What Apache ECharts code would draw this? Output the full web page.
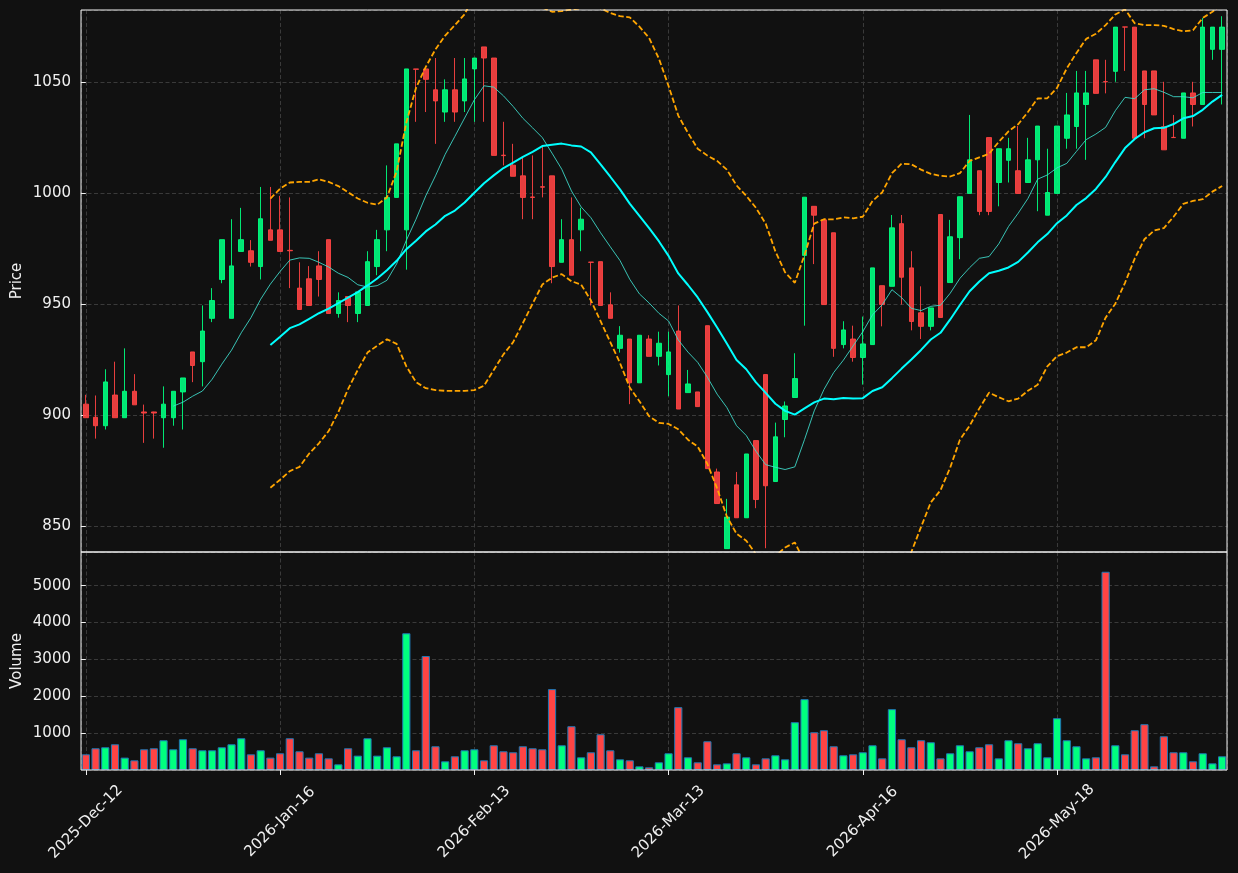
<!DOCTYPE html>
<html>
<head>
<meta charset="utf-8">
<title>Price / Volume</title>
<script src="https://cdn.jsdelivr.net/npm/echarts@6/dist/echarts.min.js"></script>
<style>
  html, body { margin: 0; padding: 0; background: #111111; }
  #chart { width: 1238px; height: 873px; }
</style>
</head>
<body>
<div id="chart"></div>
<script>
// trading days: anchors are the dates shown on the x axis, one every 20 bars
var anchorDates = ['2025-12-12', '2026-01-16', '2026-02-13', '2026-03-13', '2026-04-16', '2026-05-18'];
var barsPerAnchor = [20, 20, 20, 20, 20, 18];

var opens = [
  905.0, 899.1, 895.3, 909.1, 898.9, 910.8, 901.5, 901.5, 898.9, 898.9,
  910.5, 928.5, 924.1, 943.6, 961.1, 943.6, 973.7, 974.0, 966.9, 983.4,
  983.4, 974.2, 957.2, 961.4, 967.2, 979.0, 945.8, 953.4, 945.8, 949.4,
  966.9, 983.4, 998.0, 983.4, 1055.8, 1055.8, 1046.4, 1036.4, 1046.4, 1041.4,
  1055.8, 1065.7, 1060.7, 1017.0, 1012.5, 1007.7, 998.2, 1002.8, 1007.7, 968.8,
  979.0, 983.4, 968.9, 969.1, 949.7, 930.1, 934.3, 914.6, 934.3, 926.5,
  918.3, 937.9, 910.2, 910.5, 940.3, 874.5, 840.0, 868.7, 853.9, 888.6,
  918.3, 870.2, 898.1, 908.0, 971.9, 994.0, 987.9, 982.1, 931.8, 934.3,
  926.0, 931.8, 958.3, 958.0, 986.2, 966.3, 946.1, 940.0, 990.3, 959.7,
  979.9, 999.8, 1010.0, 1024.9, 1004.7, 1014.7, 1010.0, 1004.7, 1014.9, 990.0,
  999.8, 1024.6, 1029.9, 1039.8, 1059.9, 1050.1, 1054.7, 1074.7, 1074.6, 1054.9,
  1054.9, 1029.8, 1025.0, 1024.6, 1045.0, 1039.8, 1064.6, 1064.6
];
var highs = [
  909.2, 908.9, 920.7, 924.1, 930.1, 918.5, 904.8, 901.6, 913.0, 910.8,
  916.8, 928.5, 949.4, 957.2, 979.0, 988.2, 993.3, 978.8, 1002.7, 1002.7,
  998.7, 998.0, 968.8, 967.1, 973.8, 979.0, 955.3, 953.4, 955.5, 973.8,
  983.4, 1012.4, 1022.1, 1055.8, 1055.8, 1055.8, 1060.7, 1051.1, 1060.7, 1060.7,
  1060.7, 1065.7, 1060.7, 1032.0, 1022.1, 1016.0, 1016.9, 1021.0, 1007.7, 988.2,
  998.0, 993.3, 968.9, 969.1, 955.3, 940.1, 934.3, 936.0, 936.0, 937.6,
  937.6, 949.4, 920.4, 910.5, 940.3, 876.0, 862.4, 874.5, 882.6, 888.6,
  918.3, 896.7, 906.2, 927.9, 998.1, 994.0, 987.9, 982.1, 942.3, 940.3,
  944.4, 966.3, 958.3, 990.1, 990.1, 973.8, 958.0, 948.3, 990.3, 987.9,
  998.3, 1035.1, 1010.0, 1024.9, 1019.9, 1024.8, 1030.1, 1024.8, 1030.1, 1019.9,
  1030.1, 1045.0, 1054.9, 1054.9, 1059.9, 1059.9, 1074.6, 1074.7, 1074.6, 1054.9,
  1054.9, 1050.0, 1035.1, 1045.0, 1050.0, 1078.7, 1074.6, 1079.5
];
var lows = [
  898.9, 889.5, 893.6, 898.9, 898.9, 904.7, 887.6, 889.5, 885.4, 895.3,
  893.6, 914.9, 913.0, 941.9, 959.4, 943.6, 973.7, 966.9, 961.1, 978.7,
  973.7, 957.2, 947.6, 949.4, 953.4, 945.8, 943.9, 941.9, 941.9, 949.4,
  963.0, 973.8, 998.0, 965.5, 1032.0, 1036.4, 1022.1, 1032.0, 1032.0, 1036.4,
  1032.0, 1032.0, 1016.9, 1012.4, 1007.5, 988.2, 988.2, 998.0, 959.4, 968.8,
  963.0, 973.8, 949.4, 949.4, 943.6, 928.2, 905.0, 914.6, 926.5, 922.4,
  908.6, 902.8, 910.2, 903.9, 876.0, 860.3, 840.0, 853.9, 853.9, 858.2,
  840.2, 870.2, 890.1, 908.0, 940.3, 968.0, 949.8, 926.3, 930.1, 924.1,
  913.8, 931.8, 940.0, 958.0, 949.8, 938.2, 934.3, 938.2, 944.0, 959.7,
  970.2, 999.8, 990.0, 990.0, 994.0, 1004.7, 999.8, 1004.7, 991.8, 990.0,
  999.8, 1019.9, 1019.9, 1014.9, 1044.8, 1044.8, 1050.0, 1054.9, 1024.6, 1024.6,
  1035.1, 1019.4, 1024.9, 1024.6, 1029.9, 1039.8, 1059.9, 1039.8
];
var closes = [
  898.9, 895.3, 915.0, 898.9, 910.8, 904.7, 901.0, 901.0, 905.0, 910.8,
  916.8, 922.4, 937.9, 951.6, 979.0, 967.2, 979.0, 968.8, 988.4, 978.7,
  973.7, 974.0, 947.6, 949.4, 961.1, 945.8, 951.6, 949.4, 955.5, 969.1,
  979.0, 998.0, 1022.1, 1055.8, 1055.6, 1051.1, 1041.4, 1046.4, 1036.4, 1051.3,
  1060.7, 1060.7, 1016.9, 1016.8, 1007.5, 998.0, 998.0, 1002.6, 966.9, 979.0,
  963.0, 988.2, 968.8, 949.4, 943.6, 936.0, 914.6, 936.0, 926.5, 932.4,
  928.5, 902.8, 914.1, 903.9, 876.0, 860.3, 854.2, 853.9, 882.6, 862.1,
  868.3, 890.3, 904.2, 916.5, 998.1, 990.0, 949.8, 930.1, 938.4, 926.0,
  932.1, 966.3, 949.8, 984.3, 962.1, 942.2, 940.0, 948.3, 944.0, 980.3,
  998.3, 1014.9, 991.7, 991.7, 1019.9, 1019.9, 999.8, 1014.9, 1030.1, 1000.2,
  1030.1, 1035.1, 1045.0, 1045.0, 1044.8, 1050.0, 1074.6, 1074.6, 1024.6, 1039.8,
  1035.1, 1019.4, 1024.9, 1045.0, 1039.8, 1074.6, 1074.6, 1074.6
];
var volumes = [
  426, 590, 617, 698, 336, 263, 562, 590, 807, 562,
  834, 590, 535, 535, 617, 698, 862, 426, 535, 336,
  454, 862, 508, 336, 454, 317, 154, 590, 390, 862,
  390, 617, 372, 3710, 535, 3093, 644, 236, 372, 535,
  562, 263, 671, 508, 481, 644, 590, 562, 2195, 671,
  1188, 345, 481, 970, 535, 290, 263, 100, 73, 209,
  454, 1705, 345, 209, 780, 154, 181, 454, 345, 154,
  317, 399, 290, 1297, 1923, 1025, 1079, 644, 399, 426,
  481, 671, 317, 1651, 834, 617, 807, 753, 317, 454,
  671, 508, 617, 698, 317, 807, 726, 590, 726, 345,
  1406, 807, 644, 317, 345, 5379, 671, 426, 1079, 1243,
  100, 916, 481, 481, 236, 454, 181, 372
];

// moving averages, first value sits on bar 9 (ma10) / bar 19 (ma20 and bands)
var ma10 = [
  904.1, 905.9, 908.6, 910.9, 916.2, 923.0, 929.3, 937.1, 943.9, 952.2,
  959.0, 964.7, 969.8, 970.8, 970.6, 968.8, 966.7, 963.9, 962.0, 958.7,
  957.7, 958.3, 960.7, 968.1, 978.7, 988.2, 998.7, 1007.7, 1017.4, 1025.5,
  1033.7, 1041.9, 1048.2, 1047.6, 1043.7, 1038.9, 1033.6, 1029.3, 1024.9, 1017.9,
  1010.7, 1000.9, 993.7, 988.9, 982.1, 975.8, 969.6, 961.2, 954.6, 950.5,
  945.9, 942.4, 933.9, 928.4, 923.8, 917.1, 909.5, 903.5, 895.3, 890.9,
  883.8, 877.8, 876.6, 875.6, 876.8, 889.1, 902.0, 911.6, 919.2, 924.8,
  931.2, 937.6, 945.2, 949.7, 956.5, 952.9, 948.1, 947.1, 949.0, 949.5,
  954.9, 961.6, 966.4, 970.6, 971.4, 977.1, 984.9, 990.9, 997.5, 1006.2,
  1008.1, 1011.3, 1013.3, 1018.7, 1024.0, 1026.5, 1029.5, 1037.0, 1043.0, 1042.4,
  1046.4, 1046.9, 1045.3, 1043.3, 1043.3, 1042.8, 1045.2, 1045.2, 1045.2
];
var ma20 = [
  931.6, 935.3, 939.2, 940.9, 943.4, 945.9, 948.0, 950.5, 952.9, 955.4,
  958.4, 961.5, 965.2, 969.5, 974.7, 978.5, 982.7, 985.8, 989.7, 992.1,
  995.7, 1000.1, 1004.4, 1007.9, 1011.2, 1013.6, 1016.2, 1018.5, 1021.1, 1021.7,
  1022.2, 1021.4, 1020.9, 1018.3, 1012.9, 1007.3, 1001.6, 995.2, 989.7, 984.2,
  978.3, 971.7, 963.8, 958.6, 953.0, 946.4, 939.5, 932.3, 924.9, 920.7,
  914.8, 910.1, 905.2, 902.0, 900.3, 903.1, 905.8, 907.5, 907.2, 907.8,
  907.5, 907.7, 910.9, 912.6, 916.7, 921.0, 925.1, 929.4, 934.1, 937.1,
  943.1, 949.6, 955.8, 960.2, 963.9, 965.0, 966.5, 969.0, 973.2, 977.8,
  981.5, 986.4, 989.9, 994.6, 997.7, 1001.8, 1007.2, 1013.9, 1020.2, 1024.3,
  1027.3, 1029.1, 1029.3, 1031.0, 1033.6, 1034.6, 1037.4, 1041.1, 1044.1
];
var bbUpper = [
  997.5, 1001.9, 1004.7, 1005.0, 1005.0, 1006.1, 1005.0, 1003.1, 1000.3, 997.5,
  995.6, 994.7, 998.0, 1009.7, 1031.7, 1047.3, 1056.7, 1064.6, 1070.8, 1075.5,
  1080.4, 1088.9, 1095.5, 1095.4, 1095.0, 1094.3, 1090.9, 1086.8, 1083.4, 1081.5,
  1081.8, 1082.5, 1083.0, 1084.9, 1083.0, 1081.0, 1079.5, 1079.0, 1074.8, 1069.7,
  1060.5, 1048.1, 1034.8, 1027.0, 1019.9, 1016.8, 1014.4, 1010.5, 1003.4, 998.7,
  993.3, 986.2, 973.7, 964.3, 959.6, 972.1, 986.2, 988.2, 988.1, 989.0,
  988.6, 989.3, 996.4, 1000.3, 1008.9, 1013.2, 1012.9, 1010.5, 1008.6, 1007.7,
  1007.4, 1008.9, 1014.4, 1016.0, 1017.6, 1023.0, 1027.7, 1030.9, 1036.4, 1042.5,
  1042.6, 1047.3, 1056.0, 1063.0, 1069.3, 1071.6, 1075.5, 1080.3, 1082.6, 1076.3,
  1075.5, 1075.5, 1075.2, 1073.7, 1072.7, 1073.2, 1078.7, 1081.5, 1085.1
];
var bbLower = [
  867.4, 871.0, 874.9, 876.8, 882.8, 887.4, 892.9, 901.5, 911.8, 920.4,
  928.2, 931.3, 934.2, 932.1, 922.0, 914.9, 912.2, 911.3, 911.0, 911.0,
  911.0, 911.3, 913.3, 920.4, 927.4, 932.9, 941.5, 950.2, 958.8, 961.9,
  963.5, 960.3, 958.8, 951.7, 942.3, 932.9, 923.5, 912.5, 906.3, 899.6,
  896.6, 896.1, 893.7, 889.0, 885.9, 878.1, 867.1, 854.5, 846.7, 843.6,
  837.5, 834.0, 836.7, 840.5, 842.8, 834.1, 825.4, 826.8, 826.3, 826.6,
  826.4, 826.1, 825.4, 824.9, 824.5, 828.8, 838.5, 849.8, 860.8, 866.3,
  876.5, 889.0, 895.3, 903.1, 910.2, 908.1, 906.3, 907.5, 911.0, 913.7,
  922.0, 926.6, 928.2, 930.6, 930.6, 933.7, 943.9, 950.2, 959.6, 970.5,
  979.2, 983.1, 984.2, 989.3, 995.1, 996.4, 997.2, 1000.6, 1003.1
];

var priceTicks = [850, 900, 950, 1000, 1050];
var volumeTicks = [1000, 2000, 3000, 4000, 5000];

var UP = '#00FF7F';
var DOWN = '#FF4444';
var TXT = '#f0f0f0';
var FONT = 'DejaVu Sans';
var FS = 15;
var GRIDLINE = { color: '#3a3a3a', width: 1, type: [4, 2.5] };

var MONTHS = ['Jan', 'Feb', 'Mar', 'Apr', 'May', 'Jun', 'Jul', 'Aug', 'Sep', 'Oct', 'Nov', 'Dec'];
function fmtDate(d) {
  var dd = d.getUTCDate();
  return d.getUTCFullYear() + '-' + MONTHS[d.getUTCMonth()] + '-' + (dd < 10 ? '0' + dd : dd);
}
var dates = [];
anchorDates.forEach(function (a, k) {
  var d = new Date(a + 'T00:00:00Z');
  var n = 0;
  while (n < barsPerAnchor[k]) {
    var wd = d.getUTCDay();
    if (wd !== 0 && wd !== 6) { dates.push(fmtDate(d)); n++; }
    d.setUTCDate(d.getUTCDate() + 1);
  }
});
var N = dates.length;

function pad(arr) {
  var out = [];
  for (var i = 0; i < N - arr.length; i++) out.push('-');
  return out.concat(arr);
}

var candles = opens.map(function (o, i) { return [o, closes[i], lows[i], highs[i]]; });
var volBars = volumes.map(function (v, i) {
  return { value: v, itemStyle: { color: closes[i] > opens[i] ? UP : DOWN } };
});

var chart = echarts.init(document.getElementById('chart'));
var option = {
  backgroundColor: '#111111',
  animation: false,
  textStyle: { fontFamily: FONT },
  grid: [
    { left: 81, right: 11, top: 10, height: 542, show: true, z: 10, outerBoundsMode: 'none', containLabel: false, borderColor: '#f2f2f2', borderWidth: 1, backgroundColor: 'transparent' },
    { left: 81, right: 11, top: 552, height: 218, show: true, z: 10, outerBoundsMode: 'none', containLabel: false, borderColor: '#f2f2f2', borderWidth: 1, backgroundColor: 'transparent' }
  ],
  xAxis: [
    {
      type: 'category', gridIndex: 0, data: dates, boundaryGap: true,
      axisLine: { show: false }, axisTick: { show: false }, axisLabel: { show: false },
      splitLine: { show: false }
    },
    {
      type: 'category', gridIndex: 1, data: dates, boundaryGap: true,
      axisLine: { show: false },
      axisTick: { show: true, interval: 19, alignWithLabel: true, length: 5, lineStyle: { color: TXT } },
      axisLabel: {
        interval: 19, rotate: 45, align: 'center', verticalAlign: 'middle', margin: 52,
        color: TXT, fontSize: FS, fontFamily: FONT
      },
      splitLine: { show: false }
    },
    // value axes only used to draw the vertical dashed grid lines at bar centres
    {
      type: 'value', gridIndex: 0, min: -0.5, max: 117.5, splitNumber: 6,
      axisLine: { show: false }, axisTick: { show: false }, axisLabel: { show: false },
      splitLine: { show: true, lineStyle: GRIDLINE }
    },
    {
      type: 'value', gridIndex: 1, min: -0.5, max: 117.5, splitNumber: 6,
      axisLine: { show: false }, axisTick: { show: false }, axisLabel: { show: false },
      splitLine: { show: true, lineStyle: GRIDLINE }
    }
  ],
  yAxis: [
    {
      type: 'value', gridIndex: 0, min: 838.5, max: 1082.3, splitNumber: 5,
      name: 'Price', nameLocation: 'middle', nameGap: 56, nameMoveOverlap: false,
      nameTextStyle: { color: TXT, fontSize: 15, fontFamily: FONT },
      axisLine: { show: false },
      axisTick: { show: true, length: 5, lineStyle: { color: TXT } },
      axisLabel: {
        color: TXT, fontSize: FS, fontFamily: FONT, margin: 10, showMinLabel: false, showMaxLabel: false,
        formatter: function (v) { return priceTicks.indexOf(v) >= 0 ? String(v) : ''; }
      },
      splitLine: { show: true, lineStyle: GRIDLINE }
    },
    {
      type: 'value', gridIndex: 1, min: 0, max: 5915, splitNumber: 5,
      name: 'Volume', nameLocation: 'middle', nameGap: 56, nameMoveOverlap: false,
      nameTextStyle: { color: TXT, fontSize: 15, fontFamily: FONT },
      axisLine: { show: false },
      axisTick: { show: true, length: 5, lineStyle: { color: TXT } },
      axisLabel: {
        color: TXT, fontSize: FS, fontFamily: FONT, margin: 10, showMinLabel: false, showMaxLabel: false,
        formatter: function (v) { return volumeTicks.indexOf(v) >= 0 ? String(v) : ''; }
      },
      splitLine: { show: true, lineStyle: GRIDLINE }
    }
  ],
  series: [
    {
      name: 'OHLC', type: 'candlestick', xAxisIndex: 0, yAxisIndex: 0,
      data: candles, barWidth: 5,
      itemStyle: {
        color: UP, color0: DOWN, borderColor: UP, borderColor0: DOWN,
        borderWidth: 1, opacity: 0.9
      }
    },
    {
      name: 'MA10', type: 'line', xAxisIndex: 0, yAxisIndex: 0, data: pad(ma10),
      showSymbol: false, symbol: 'none', z: 3,
      lineStyle: { color: '#40E0D0', width: 1, opacity: 0.85 }
    },
    {
      name: 'MA20', type: 'line', xAxisIndex: 0, yAxisIndex: 0, data: pad(ma20),
      showSymbol: false, symbol: 'none', z: 3,
      lineStyle: { color: '#00FFFF', width: 2 }
    },
    {
      name: 'Upper', type: 'line', xAxisIndex: 0, yAxisIndex: 0, data: pad(bbUpper),
      showSymbol: false, symbol: 'none', z: 3,
      lineStyle: { color: '#FFA500', width: 1.8, type: [5.5, 2.5] }
    },
    {
      name: 'Lower', type: 'line', xAxisIndex: 0, yAxisIndex: 0, data: pad(bbLower),
      showSymbol: false, symbol: 'none', z: 3,
      lineStyle: { color: '#FFA500', width: 1.8, type: [5.5, 2.5] }
    },
    {
      name: 'Volume', type: 'bar', xAxisIndex: 1, yAxisIndex: 1, data: volBars,
      barWidth: 8.2,
      itemStyle: { borderColor: '#1f77b4', borderWidth: 1 }
    }
  ]
};
chart.setOption(option);
</script>
</body>
</html>
